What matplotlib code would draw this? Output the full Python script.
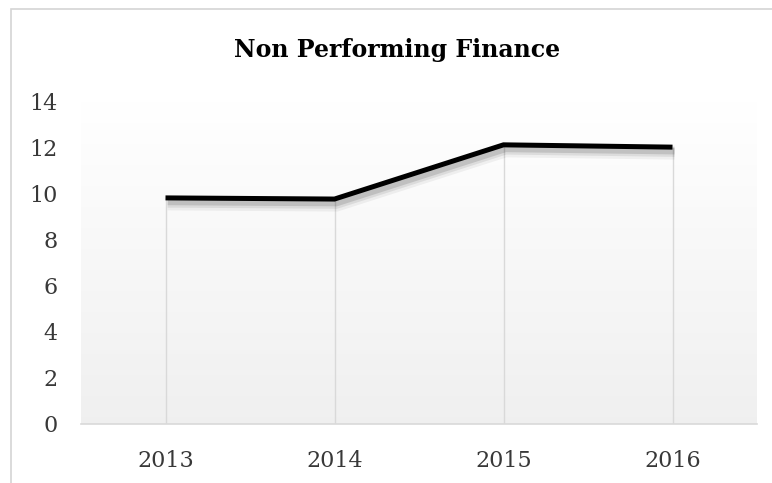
import numpy as np
import matplotlib
matplotlib.use("Agg")
import matplotlib.pyplot as plt
import matplotlib.patheffects as pe
from matplotlib.patches import Rectangle

years = ["2013", "2014", "2015", "2016"]
npf = [9.8, 9.75, 12.1, 12.0]
y_ticks = [0, 2, 4, 6, 8, 10, 12, 14]

W, H = 772, 483
fig = plt.figure(figsize=(W / 100, H / 100), dpi=100)
fig.patch.set_facecolor("white")

# outer chart frame
fig.add_artist(Rectangle((11 / W, -0.05), 1.2, 1 - 9 / H + 0.05,
                         transform=fig.transFigure, fill=False,
                         edgecolor="#d4d4d4", lw=1.2))

ax = fig.add_axes([81 / W, 1 - 424 / H, (757 - 81) / W, (424 - 101) / H])
ax.set_facecolor("none")

# soft vertical gradient behind the plot area
grad = np.linspace(1.0, 0.0, 256).reshape(-1, 1)
top = np.array([1.0, 1.0, 1.0])
bot = np.array([0.94, 0.94, 0.94])
img = top * grad[..., None] + bot * (1 - grad[..., None])
ax.imshow(img, extent=[0, 1, 0, 1], transform=ax.transAxes,
          aspect="auto", zorder=0, interpolation="bilinear")

x = np.arange(len(years))
ax.vlines(x, 0, npf, colors="#d9d9d9", lw=1, zorder=1)

shadow = [pe.SimpleLineShadow(offset=(1.5, -4), shadow_color="black",
                              alpha=0.05, linewidth=10),
          pe.SimpleLineShadow(offset=(1.5, -3.5), shadow_color="black",
                              alpha=0.08, linewidth=7),
          pe.SimpleLineShadow(offset=(1.5, -3), shadow_color="black",
                              alpha=0.12, linewidth=4.5),
          pe.Normal()]
ax.plot(x, npf, color="black", lw=3.6, solid_capstyle="butt",
        solid_joinstyle="miter", zorder=3, path_effects=shadow)

ax.set_xlim(-0.5, len(years) - 0.5)
ax.set_ylim(0, 14)
ax.set_yticks(y_ticks)
ax.set_xticks(x)
ax.set_xticklabels(years)

font = "DejaVu Serif"
for lab in ax.get_xticklabels() + ax.get_yticklabels():
    lab.set_fontfamily(font)
    lab.set_fontsize(16)
    lab.set_color("#383838")

ax.tick_params(axis="both", length=0)
ax.tick_params(axis="x", pad=19)
ax.tick_params(axis="y", pad=17)
for s in ["top", "right", "left"]:
    ax.spines[s].set_visible(False)
ax.spines["bottom"].set_color("#d9d9d9")
ax.spines["bottom"].set_linewidth(1.2)
ax.spines["bottom"].set_zorder(2)

fig.text(397 / W, 1 - 50 / H, "Non Performing Finance", ha="center",
         va="center", fontsize=17, fontweight="bold", family=font,
         color="black")

fig.savefig("out.png", dpi=100)
